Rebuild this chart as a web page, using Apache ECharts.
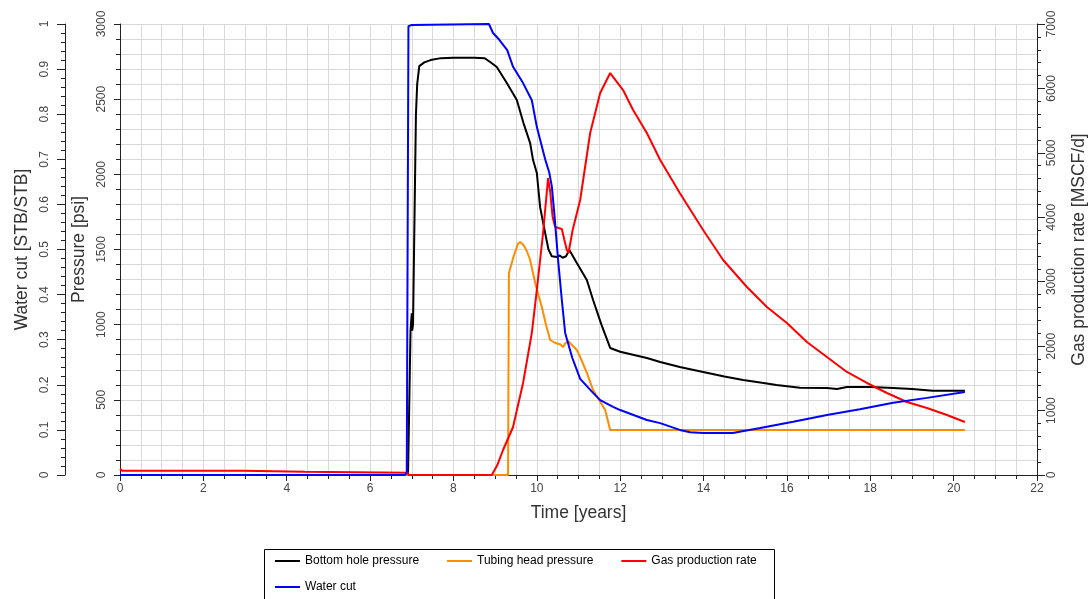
<!DOCTYPE html>
<html><head><meta charset="utf-8">
<script src="https://cdn.jsdelivr.net/npm/echarts@6/dist/echarts.min.js"></script>
<style>html,body{margin:0;padding:0;background:#fff}#c{width:1090px;height:599px}</style>
</head><body><div id="c"></div>
<script>
// ---- data (time in years) ----
const bhpTime = [0,6.91,6.97,7.0,7.01,7.03,7.1,7.13,7.18,7.3,7.45,7.7,8.0,8.5,8.75,8.88,9.04,9.28,9.52,9.68,9.84,9.91,10.0,10.08,10.2,10.28,10.36,10.48,10.55,10.62,10.7,10.78,10.96,11.2,11.35,11.55,11.76,12.0,12.64,12.96,13.43,13.99,14.5,14.95,15.4,15.75,16.31,16.96,17.2,17.44,18.0,18.55,19.0,19.5,20.27];
const bhpValues = [0,0,960,1075,960,1000,2400,2600,2720,2745,2760,2773,2775,2775,2772,2747,2714,2607,2494,2341,2208,2095,2009,1780,1610,1500,1455,1450,1460,1445,1455,1497,1410,1297,1164,1000,845,820,778,752,718,685,655,632,613,599,580,578,572,585,585,579,572,560,560];

const thpTime = [0,9.31,9.33,9.45,9.55,9.6,9.68,9.76,9.84,9.96,10.12,10.22,10.32,10.44,10.56,10.63,10.68,10.75,10.96,11.04,11.2,11.35,11.64,11.76,20.27];
const thpValues = [0,0,1344,1460,1540,1550,1530,1490,1430,1277,1118,1000,898,878,870,851,875,891,832,785,680,565,432,300,300];

const gasTime = [0,0.05,2.95,2.96,4.44,4.45,6.9,6.92,8.92,9.05,9.19,9.43,9.67,9.88,10.0,10.15,10.27,10.32,10.38,10.44,10.6,10.66,10.72,10.76,10.86,11.04,11.28,11.52,11.76,12.07,12.31,12.64,12.96,13.43,13.99,14.47,15.04,15.52,16.0,16.48,16.96,17.44,17.92,18.4,18.88,19.36,19.84,20.27];
const gasValues = [95,67,67,51,51,36,36,0,0,150,388,745,1428,2204,2871,3756,4609,4400,4000,3849,3818,3650,3492,3445,3802,4268,5308,5929,6239,5975,5665,5308,4889,4377,3802,3337,2918,2607,2359,2064,1831,1599,1428,1273,1133,1040,931,822];

const wcTime = [0,6.84,6.88,6.91,6.92,7.0,7.02,8.85,8.95,9.1,9.29,9.43,9.67,9.88,10.0,10.2,10.3,10.36,10.42,10.51,10.6,10.68,10.85,11.04,11.35,11.52,11.83,12.0,12.64,12.96,13.43,13.68,13.99,14.7,15.36,16.15,16.96,17.75,18.55,19.36,20.27];
const wcValues = [0,0,0.007,0.01,0.995,0.998,1.0,1.0,0.98,0.965,0.942,0.905,0.869,0.831,0.772,0.70,0.67,0.64,0.58,0.477,0.388,0.315,0.26,0.213,0.182,0.166,0.151,0.144,0.122,0.115,0.1,0.095,0.093,0.093,0.104,0.118,0.133,0.146,0.16,0.171,0.184];

const seriesNames = ['Bottom hole pressure','Tubing head pressure','Gas production rate','Water cut'];
const xTicks = {min:0, max:22, step:2};
const pressureTicks = {min:0, max:3000, step:500};
const wcTicks = {min:0, max:1, step:0.1};
const gasTicks = {min:0, max:7000, step:1000};

const zip = (a,b) => a.map((t,i)=>[t,b[i]]);
const FONT = '"Liberation Sans", Arial, sans-serif';
const gridColor = '#d9d9d9';
const axisColor = '#222';
const labelColor = '#444';
const nameStyle = {fontFamily:FONT, fontSize:17.5, color:'#333'};
const plain = v => String(Math.round(v*1000)/1000);

const chart = echarts.init(document.getElementById('c'), null, {renderer:'canvas'});
const lineStyle = c => ({color:c, width:2});
chart.setOption({
  animation:false,
  backgroundColor:'#fff',
  grid:{left:120, right:53, top:24, bottom:124, containLabel:false, outerBoundsMode:'none'},
  xAxis:{
    type:'value', min:xTicks.min, max:xTicks.max, interval:xTicks.step,
    name:'Time [years]', nameLocation:'middle', nameGap:29, nameTextStyle:nameStyle,
    axisLine:{show:true, lineStyle:{color:axisColor, width:1}},
    axisTick:{show:true, length:6, lineStyle:{color:axisColor}},
    minorTick:{show:true, splitNumber:4, length:4, lineStyle:{color:axisColor}},
    axisLabel:{margin:8, fontFamily:FONT, fontSize:12, color:labelColor, formatter:plain},
    splitLine:{show:true, lineStyle:{color:gridColor, width:1}},
    minorSplitLine:{show:true, lineStyle:{color:gridColor, width:1}}
  },
  yAxis:[
    {
      type:'value', position:'left', min:pressureTicks.min, max:pressureTicks.max, interval:pressureTicks.step,
      name:'Pressure [psi]', nameLocation:'middle', nameGap:32, nameTextStyle:nameStyle,
      axisLine:{show:true, lineStyle:{color:axisColor, width:1}},
      axisTick:{show:true, length:6, lineStyle:{color:axisColor}},
      minorTick:{show:true, splitNumber:5, length:4, lineStyle:{color:axisColor}},
      axisLabel:{rotate:90, margin:12, fontFamily:FONT, fontSize:12, color:labelColor, formatter:plain},
      splitLine:{show:true, lineStyle:{color:gridColor, width:1}},
      minorSplitLine:{show:true, lineStyle:{color:gridColor, width:1}}
    },
    {
      type:'value', position:'left', offset:55, min:wcTicks.min, max:wcTicks.max, interval:wcTicks.step,
      name:'Water cut [STB/STB]', nameLocation:'middle', nameGap:32, nameTextStyle:nameStyle,
      axisLine:{show:true, lineStyle:{color:axisColor, width:1}},
      axisTick:{show:true, length:8, lineStyle:{color:axisColor}},
      minorTick:{show:true, splitNumber:5, length:4, lineStyle:{color:axisColor}},
      axisLabel:{rotate:90, margin:14, fontFamily:FONT, fontSize:12, color:labelColor, formatter:plain},
      splitLine:{show:false}
    },
    {
      type:'value', position:'right', min:gasTicks.min, max:gasTicks.max, interval:gasTicks.step,
      name:'Gas production rate [MSCF/d]', nameLocation:'middle', nameGap:33, nameTextStyle:nameStyle,
      axisLine:{show:true, lineStyle:{color:axisColor, width:1}},
      axisTick:{show:true, length:8, lineStyle:{color:axisColor}},
      minorTick:{show:true, splitNumber:5, length:4, lineStyle:{color:axisColor}},
      axisLabel:{rotate:90, margin:9, fontFamily:FONT, fontSize:12, color:labelColor, formatter:plain},
      splitLine:{show:false}
    }
  ],
  legend:[
    {left:270, top:550, padding:5, itemGap:28, itemWidth:25, itemHeight:2, icon:'rect',
     data:seriesNames.slice(0,3), textStyle:{fontFamily:FONT, fontSize:12, color:'#000'}},
    {left:270, top:576, padding:5, itemGap:28, itemWidth:25, itemHeight:2, icon:'rect',
     data:seriesNames.slice(3), textStyle:{fontFamily:FONT, fontSize:12, color:'#000'}}
  ],
  graphic:[{type:'rect', left:262, top:547, silent:true,
    shape:{x:0, y:0, width:510, height:70},
    style:{fill:'none', stroke:'#000', lineWidth:1}}],
  series:[
    {name:seriesNames[0], type:'line', yAxisIndex:0, data:zip(bhpTime,bhpValues), showSymbol:false, symbol:'none', lineStyle:lineStyle('#000000'), itemStyle:{color:'#000000'}},
    {name:seriesNames[1], type:'line', yAxisIndex:0, data:zip(thpTime,thpValues), showSymbol:false, symbol:'none', lineStyle:lineStyle('#ff8c00'), itemStyle:{color:'#ff8c00'}},
    {name:seriesNames[2], type:'line', yAxisIndex:2, data:zip(gasTime,gasValues), showSymbol:false, symbol:'none', lineStyle:lineStyle('#ff0000'), itemStyle:{color:'#ff0000'}},
    {name:seriesNames[3], type:'line', yAxisIndex:1, data:zip(wcTime,wcValues), showSymbol:false, symbol:'none', lineStyle:lineStyle('#0000ff'), itemStyle:{color:'#0000ff'}}
  ]
});
</script></body></html>
